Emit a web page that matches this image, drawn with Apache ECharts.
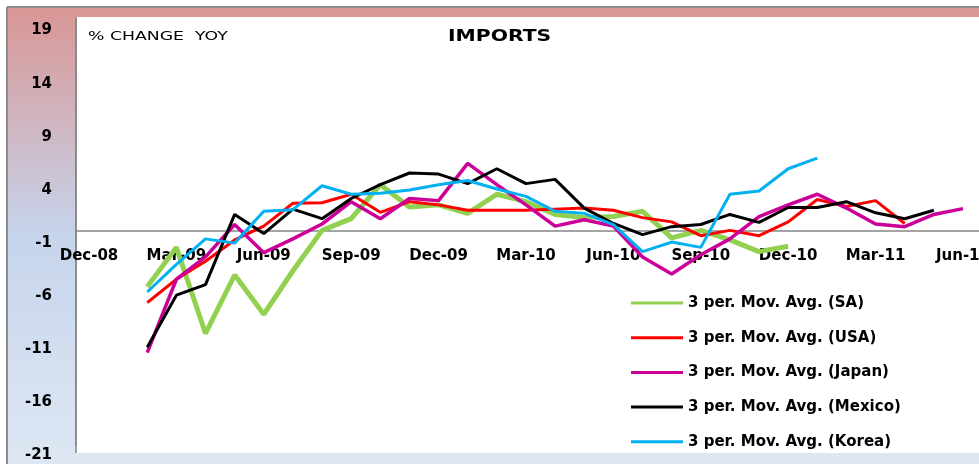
<!DOCTYPE html>
<html>
<head>
<meta charset="utf-8">
<script src="https://cdn.jsdelivr.net/npm/echarts@6/dist/echarts.min.js"></script>
<style>html,body{margin:0;padding:0;background:#fff;}#c{width:979px;height:464px;}</style>
</head>
<body>
<div id="c"></div>
<script>
var months = ['Dec-08','Jan-09','Feb-09','Mar-09','Apr-09','May-09','Jun-09','Jul-09','Aug-09','Sep-09','Oct-09','Nov-09',
  'Dec-09','Jan-10','Feb-10','Mar-10','Apr-10','May-10','Jun-10','Jul-10','Aug-10','Sep-10','Oct-10','Nov-10',
  'Dec-10','Jan-11','Feb-11','Mar-11','Apr-11','May-11','Jun-11'];
var xTickIdx = [0,3,6,9,12,15,18,21,24,27,30];
var yTicks = [-21,-16,-11,-6,-1,4,9,14,19];
var seriesNames = ['3 per. Mov. Avg. (SA)','3 per. Mov. Avg. (USA)','3 per. Mov. Avg. (Japan)','3 per. Mov. Avg. (Mexico)','3 per. Mov. Avg. (Korea)'];
var sa     = [null,null,-6.1,-2.4,-10.5,-5.0,-8.7,-4.6,-0.8,0.3,3.5,1.4,1.6,0.8,2.6,1.9,0.7,0.4,0.5,1.0,-1.5,-0.8,-1.7,-2.8,-2.3,null,null,null,null,null,null];
var usa    = [null,null,-7.6,-5.4,-3.7,-1.7,-0.4,1.75,1.8,2.6,0.9,1.9,1.6,1.1,1.1,1.1,1.2,1.3,1.1,0.4,0.0,-1.3,-0.8,-1.3,0.0,2.1,1.45,2.0,-0.15,null,null];
var japan  = [null,null,-12.3,-5.4,-3.3,-0.25,-2.9,-1.6,-0.2,1.9,0.3,2.2,2.0,5.5,3.5,1.6,-0.4,0.2,-0.4,-3.3,-4.9,-3.1,-1.6,0.5,1.6,2.6,1.3,-0.2,-0.45,0.7,1.25];
var mexico = [null,null,-11.8,-6.9,-5.9,0.7,-1.1,1.2,0.3,2.2,3.5,4.6,4.5,3.6,5.0,3.6,4.0,1.3,-0.15,-1.2,-0.45,-0.25,0.7,-0.05,1.35,1.35,1.9,0.85,0.3,1.1,null];
var korea  = [null,null,-6.6,-4.0,-1.6,-2.0,1.0,1.15,3.4,2.6,2.7,3.0,3.5,3.9,3.1,2.4,1.0,0.8,-0.25,-2.8,-1.9,-2.4,2.6,2.9,5.0,6.0,null,null,null,null,null];

var allData = [sa, usa, japan, mexico, korea];
var colors = ['#92D050','#FF0000','#CC0099','#000000','#00B0F0'];
var widths = [5, 3, 3.5, 3, 3];

function pairs(arr){ return arr.map(function(v,i){ return [i, v]; }); }

var chart = echarts.init(document.getElementById('c'), null, {renderer:'canvas'});
var FONT = '"DejaVu Sans", sans-serif';
var option = {
  backgroundColor: '#ffffff',
  animation: false,
  graphic: [
    {type:'rect', z:-100, silent:true, shape:{x:7,y:7,width:972,height:457},
      style:{fill:{type:'linear',x:0,y:0,x2:0,y2:1,colorStops:[
        {offset:0,color:'#D99694'},{offset:0.5,color:'#C6D4EC'},{offset:1,color:'#DEE7F3'}]}}},
    {type:'line', z:-99, silent:true, shape:{x1:7,y1:7,x2:979,y2:7}, style:{stroke:'#8c8c8c',lineWidth:2}},
    {type:'line', z:-99, silent:true, shape:{x1:7,y1:7,x2:7,y2:464}, style:{stroke:'#8c8c8c',lineWidth:2}},
    {type:'rect', z:-98, silent:true, shape:{x:76,y:17,width:903,height:436}, style:{fill:'#ffffff'}},
    {type:'line', z:-97, silent:true, shape:{x1:76,y1:17,x2:76,y2:453}, style:{stroke:'#868686',lineWidth:1.5}},
    {type:'text', z:10, x:448, y:29, scaleX:1.27, style:{text:'IMPORTS', font:'bold 16px '+FONT, fill:'#000'}},
    {type:'text', z:10, x:88, y:31, scaleX:1.44, style:{text:'% CHANGE  YOY', font:'12px '+FONT, fill:'#000'}}
  ],
  grid: {left:76, right:0, top:20, bottom:19, containLabel:false, outerBoundsMode:'none'},
  xAxis: {
    type:'value', min:-0.446, max:30.55, offset:-214,
    axisLine:{show:true, onZero:false, lineStyle:{color:'#868686', width:1.5}},
    axisTick:{show:false},
    splitLine:{show:false},
    axisLabel:{customValues:xTickIdx, margin:18, color:'#000', fontFamily:FONT, fontWeight:'bold', fontSize:15,
      formatter:function(v){ return months[Math.round(v)] || ''; }}
  },
  yAxis: {
    type:'value', min:-21, max:19,
    axisLine:{show:true, onZero:false, lineStyle:{color:'#868686', width:1.5}},
    axisTick:{show:false},
    splitLine:{show:false},
    axisLabel:{customValues:yTicks, margin:24, verticalAlign:'top', padding:[3,0,0,0], color:'#000', fontFamily:FONT, fontWeight:'bold', fontSize:15}
  },
  legend: {
    orient:'vertical', left:626, top:290, itemWidth:52, itemHeight:3, itemGap:18.7, icon:'rect',
    textStyle:{fontFamily:FONT, fontWeight:'bold', fontSize:15, color:'#000', lineHeight:16},
    data: seriesNames
  },
  series: seriesNames.map(function(n, i){
    return {
      name:n, type:'line', data:pairs(allData[i]), showSymbol:false, symbol:'none',
      lineStyle:{color:colors[i], width:widths[i]}, itemStyle:{color:colors[i]},
      z: 2 + i
    };
  })
};
chart.setOption(option);
</script>
</body>
</html>
